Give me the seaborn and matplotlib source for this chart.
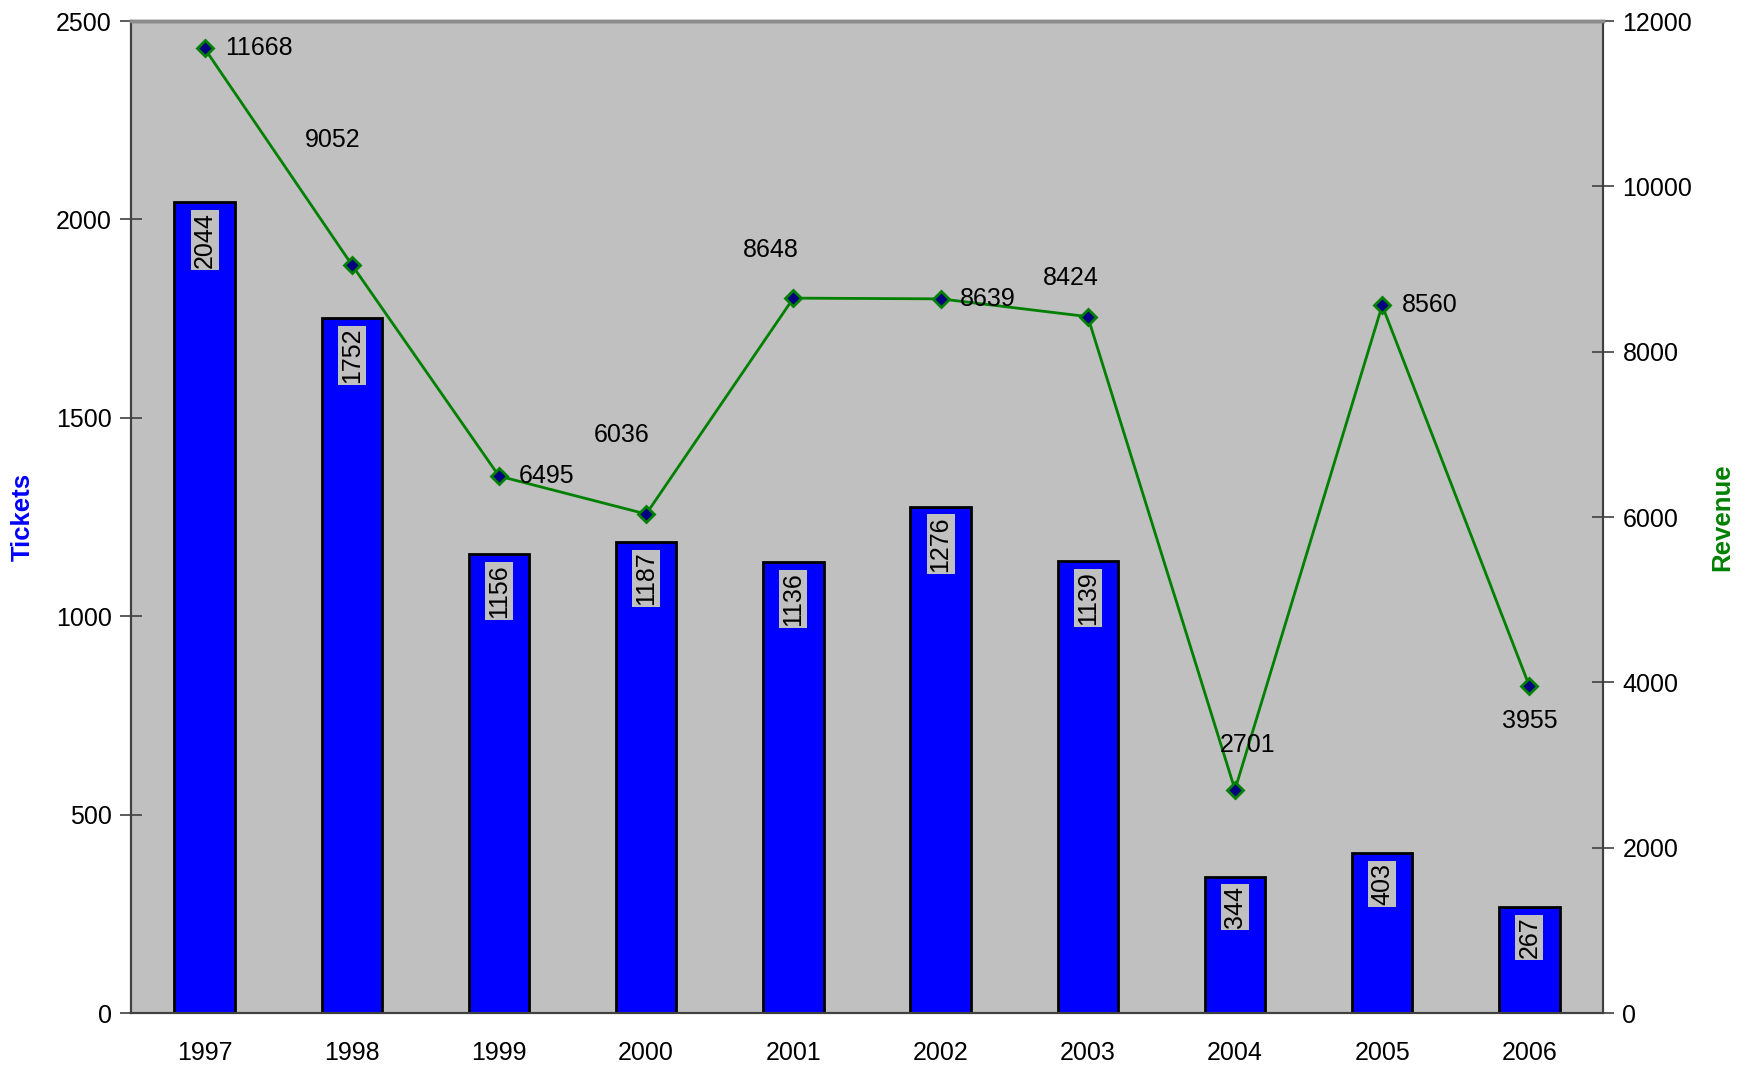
import numpy as np
import pandas as pd
import matplotlib
matplotlib.use('Agg')
import matplotlib.pyplot as plt
import seaborn as sns
from matplotlib.ticker import FixedLocator, MultipleLocator, NullFormatter

# ---- data ----
years = ['1997', '1998', '1999', '2000', '2001', '2002', '2003', '2004', '2005', '2006']
tickets = [2044, 1752, 1156, 1187, 1136, 1276, 1139, 344, 403, 267]
revenue = [11668, 9052, 6495, 6036, 8648, 8639, 8424, 2701, 8560, 3955]

# label offsets for revenue labels (points, style only)
rev_label_offsets = [(39, 0), (-14, 90), (34, 0), (-18, 57), (-16, 35),
                     (34, 0), (-12, 28), (9, 32), (34, 0), (0, -25)]

sns.set_style('white')
plt.rcParams['font.family'] = ['Liberation Sans', 'DejaVu Sans']

FS = 18
fig = plt.figure(figsize=(17.49, 10.67), dpi=100)
ax = fig.add_axes([0.0749, 0.0506, 0.8416, 0.9297])
ax.set_facecolor('#C0C0C0')

df = pd.DataFrame({'Year': years, 'Tickets': tickets, 'Revenue': revenue})
df['pos'] = np.arange(len(years))

sns.barplot(data=df, x='Year', y='Tickets', color='#0000FF', saturation=1,
            width=0.41, edgecolor='black', linewidth=2, ax=ax, zorder=2)

ax2 = ax.twinx()
sns.lineplot(data=df, x='pos', y='Revenue', ax=ax2, color='#008000', lw=2,
             marker='D', markersize=8.5, markerfacecolor='#000080',
             markeredgecolor='#008000', markeredgewidth=2)

ax.set_xlim(-0.5, len(years) - 0.5)
ax.set_ylim(0, 2500)
ax2.set_ylim(0, 12000)
ax.yaxis.set_major_locator(MultipleLocator(500))
ax2.yaxis.set_major_locator(MultipleLocator(2000))

ax.xaxis.set_major_locator(FixedLocator(np.arange(len(years))))
ax.set_xticklabels(years)
ax.xaxis.set_minor_locator(FixedLocator(np.arange(len(years) + 1) - 0.5))
ax.xaxis.set_minor_formatter(NullFormatter())
ax.tick_params(axis='x', which='major', length=0, pad=20, labelsize=FS, labelcolor='black')
ax.tick_params(axis='x', which='minor', length=16, width=1.2, direction='inout', color='#404040')
ax.tick_params(axis='y', length=16, width=1.2, direction='inout', color='#404040',
               pad=6, labelsize=FS, labelcolor='black', left=True)
ax2.tick_params(axis='y', length=16, width=1.2, direction='inout', color='#404040',
                pad=6, labelsize=FS, labelcolor='black', right=True)

ax.set_xlabel('')
ax.set_ylabel('Tickets', color='#0000FF', fontsize=18.5, fontweight='bold')
ax2.set_ylabel('Revenue', color='#008000', fontsize=18.5, fontweight='bold')
ax.yaxis.set_label_coords(-0.0652, 0.5)
ax2.yaxis.set_label_coords(1.0727, 0.5)

for a in (ax, ax2):
    for side, sp in a.spines.items():
        sp.set_visible(True)
        sp.set_linewidth(1.5)
        sp.set_color('#404040')
    a.spines['top'].set_color('#8C8C8C')
    a.spines['top'].set_linewidth(2.5)

# bar value labels
for i, v in enumerate(tickets):
    ax.annotate(str(v), xy=(i, v), xytext=(0, -7), textcoords='offset points',
                rotation=90, ha='center', va='top', fontsize=FS, color='black', zorder=5,
                bbox=dict(boxstyle='square,pad=0.08', fc='#C0C0C0', ec='none'))

# revenue value labels
for i, v in enumerate(revenue):
    dx, dy = rev_label_offsets[i]
    ax2.annotate(str(v), xy=(i, v), xytext=(dx, dy), textcoords='offset points',
                 ha='center', va='center', fontsize=FS, color='black', zorder=6)

fig.savefig('out.png', dpi=100)
